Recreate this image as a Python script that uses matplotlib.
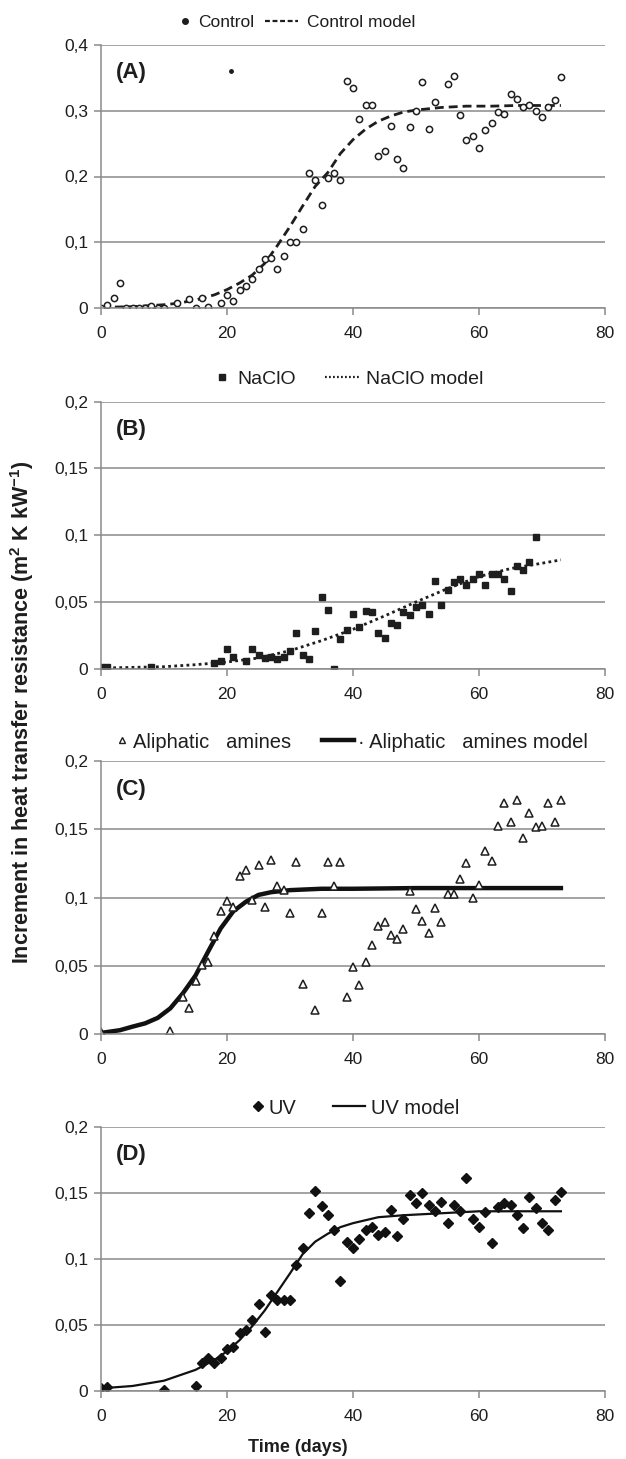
import matplotlib
matplotlib.use('Agg')
import matplotlib.pyplot as plt
from matplotlib.lines import Line2D
from matplotlib.ticker import FuncFormatter

plt.rcParams['font.family'] = ['Liberation Sans', 'DejaVu Sans']
plt.rcParams['mathtext.fontset'] = 'custom'
plt.rcParams['mathtext.rm'] = 'Liberation Sans'
plt.rcParams['mathtext.bf'] = 'Liberation Sans:bold'

# (A) control
ctrl_t = [0, 1, 2, 3, 4, 5, 6, 7, 8, 9, 10, 12, 14, 15, 16, 17, 19,
          20, 21, 22, 23, 24, 25, 26, 27, 28, 29, 30, 31, 32, 33, 34, 35, 36, 37, 38, 39,
          40, 41, 42, 43, 44, 45, 46, 47, 48, 49, 50, 51, 52, 53,
          55, 56, 57, 58, 59, 60, 61, 62, 63, 64, 65, 66, 67, 68, 69, 70, 71, 72, 73]
ctrl_y = [0, 0.004, 0.015, 0.038, 0, 0, 0, 0, 0.003, 0, 0,
          0.007, 0.013, 0, 0.015, 0.002, 0.007,
          0.02, 0.01, 0.027, 0.033, 0.044, 0.06, 0.074, 0.076, 0.06, 0.079, 0.1, 0.1, 0.12, 0.206,
          0.194, 0.156, 0.197, 0.206, 0.194, 0.345, 0.335, 0.288, 0.309, 0.308, 0.231, 0.239,
          0.277, 0.226, 0.213, 0.276, 0.3, 0.343, 0.273, 0.314,
          0.34, 0.353, 0.293, 0.256, 0.261, 0.243, 0.271, 0.281, 0.298, 0.295, 0.326, 0.318,
          0.306, 0.308, 0.3, 0.291, 0.305, 0.316, 0.351]
dot_t = [20.7]
dot_y = [0.36]
ctrl_model_t = [0, 5, 10, 12, 15, 18, 20, 22, 24, 26, 28, 30, 32, 34, 36, 38, 40, 42, 44, 46,
                48, 50, 54, 58, 62, 66, 70, 73]
ctrl_model_y = [0.001, 0.002, 0.005, 0.007, 0.012, 0.02, 0.028, 0.038, 0.05, 0.068, 0.095,
                0.124, 0.155, 0.185, 0.206, 0.235, 0.256, 0.272, 0.284, 0.292, 0.298, 0.301,
                0.305, 0.307, 0.307, 0.308, 0.308, 0.308]

# (B) NaClO
nacl_t = [0, 1, 8, 18, 19, 20, 21, 23, 24, 25, 26, 27, 28, 29, 30, 31, 32, 33, 34, 35, 36,
          37, 38, 39, 40, 41, 42, 43, 44, 45, 46, 47, 48, 49, 50, 51, 52, 53, 54, 55, 56, 57,
          58, 59, 60, 61, 62, 63, 64, 65, 66, 67, 68, 69]
nacl_y = [0.001, 0.0015, 0.001, 0.004, 0.0055, 0.015, 0.009,
          0.006, 0.015, 0.01, 0.008, 0.009, 0.0075, 0.009, 0.013, 0.0265, 0.01,
          0.0075, 0.0285, 0.054, 0.044, 0, 0.022, 0.029, 0.041, 0.031, 0.043,
          0.0425, 0.0265, 0.023, 0.034, 0.033, 0.0425, 0.04, 0.0465, 0.048, 0.041,
          0.066, 0.048, 0.059, 0.065, 0.067, 0.063, 0.0675, 0.071, 0.0625, 0.071,
          0.071, 0.067, 0.058, 0.077, 0.074, 0.08, 0.099]
nacl_model_t = [0, 5, 10, 15, 20, 25, 30, 35, 40, 45, 50, 55, 60, 65, 70, 73]
nacl_model_y = [0.0005, 0.001, 0.0015, 0.003, 0.005, 0.008, 0.0135, 0.021, 0.0295, 0.0395,
                0.05, 0.06, 0.069, 0.075, 0.079, 0.0815]

# (C) aliphatic amines
amin_t = [0, 11, 13, 14, 15, 16, 17, 18, 19, 20, 21, 22, 23, 24, 25, 26, 27, 28, 29, 30, 31,
          32, 34, 35, 36, 37, 38, 39, 40, 41, 42, 43, 44, 45, 46, 47, 48, 49, 50, 51, 52, 53,
          54, 55, 56, 57, 58, 59, 60, 61, 62, 63, 64, 65, 66, 67, 68, 69, 70, 71, 72, 73]
amin_y = [0.002, 0.0025,
          0.0275, 0.019, 0.039, 0.051, 0.053, 0.072, 0.09, 0.0975, 0.093, 0.116,
          0.12, 0.098, 0.124, 0.093, 0.1275, 0.1085, 0.1055, 0.089, 0.126, 0.037,
          0.018, 0.089, 0.126, 0.1085, 0.126, 0.027, 0.049, 0.036, 0.053, 0.065,
          0.079, 0.0825, 0.0725, 0.07, 0.077, 0.105, 0.092, 0.083, 0.074, 0.0925,
          0.082, 0.103, 0.1025, 0.1135, 0.125, 0.1, 0.1095, 0.134, 0.127, 0.1525,
          0.169, 0.155, 0.1715, 0.144, 0.162, 0.152, 0.1525, 0.169, 0.155, 0.1715]
amin_model_t = [0, 3, 5, 7, 9, 11, 13, 15, 17, 19, 21, 23, 25, 27, 30, 35, 40, 50, 60, 73]
amin_model_y = [0.001, 0.003, 0.0056, 0.008, 0.012, 0.019, 0.03, 0.043, 0.0605, 0.0775, 0.09,
                0.097, 0.102, 0.104, 0.1055, 0.1065, 0.1065, 0.107, 0.107, 0.107]

# (D) UV
uv_t = [0, 1, 10, 15, 16, 17, 18, 19, 20, 21, 22, 23, 24, 25, 26, 27, 28, 29, 30, 31, 32, 33,
        34, 35, 36, 37, 38, 39, 40, 41, 42, 43, 44, 45, 46, 47, 48, 49, 50, 51, 52, 53, 54,
        55, 56, 57, 58, 59, 60, 61, 62, 63, 64, 65, 66, 67, 68, 69, 70, 71, 72, 73]
uv_y = [0.002, 0.003, 0.001,
        0.004, 0.0215, 0.025, 0.021, 0.025, 0.032, 0.0335, 0.044, 0.0465, 0.054,
        0.066, 0.045, 0.0725, 0.069, 0.069, 0.069, 0.0955, 0.108, 0.135, 0.1515,
        0.14, 0.133, 0.122, 0.0835, 0.1125, 0.108, 0.115, 0.1215, 0.124, 0.118,
        0.12, 0.137, 0.1175, 0.13, 0.1485, 0.142, 0.1495, 0.1405, 0.136, 0.143,
        0.127, 0.141, 0.136, 0.1615, 0.1305, 0.124, 0.1355, 0.112, 0.139, 0.142,
        0.1405, 0.1335, 0.123, 0.1465, 0.1385, 0.127, 0.122, 0.1445, 0.1505]
uv_model_t = [0, 5, 10, 15, 18, 20, 22, 24, 26, 28, 30, 32, 34, 36, 38, 40, 44, 48, 52, 60, 73]
uv_model_y = [0.002, 0.0038, 0.0078, 0.016, 0.0235, 0.03, 0.0385, 0.049, 0.061, 0.075, 0.089,
              0.1035, 0.113, 0.119, 0.124, 0.127, 0.1315, 0.133, 0.134, 0.136, 0.136]

W, H = 626, 1459
fig = plt.figure(figsize=(W / 100, H / 100), dpi=100)

grey = '#8a8a8a'
ink = '#1e1e1e'
comma = FuncFormatter(lambda v, p: ('%g' % round(v, 3)).replace('.', ','))


def make_axes(top, bottom, ymax, ystep, label):
    ax = fig.add_axes([101 / W, 1 - bottom / H, 504 / W, (bottom - top) / H])
    ax.set_xlim(0, 80)
    ax.set_ylim(0, ymax)
    ax.set_xticks([0, 20, 40, 60, 80])
    n = int(round(ymax / ystep))
    ax.set_yticks([i * ystep for i in range(n + 1)])
    ax.yaxis.set_major_formatter(comma)
    ax.yaxis.grid(True, color=grey, lw=1.1)
    ax.set_axisbelow(True)
    for s in ['top', 'right']:
        ax.spines[s].set_visible(False)
    for s in ['left', 'bottom']:
        ax.spines[s].set_color(grey)
        ax.spines[s].set_linewidth(1.1)
    ax.tick_params(colors=grey, labelcolor=ink, labelsize=12.5, length=5, width=1.1)
    ax.tick_params(axis='x', pad=8)
    ax.tick_params(axis='y', pad=4)
    ax.text(0.03, 0.895, label, transform=ax.transAxes, fontsize=16, fontweight='bold',
            va='center', ha='left', color=ink)
    return ax


def legend_entry(handle, label, x_left, y, fs, hl, tp):
    # one legend item placed by the left edge of its handle (pixels)
    fig.legend([handle], [label], loc='center left', bbox_to_anchor=(x_left / W, 1 - y / H),
               frameon=False, fontsize=fs, handlelength=hl, handletextpad=tp,
               borderpad=0, borderaxespad=0, labelcolor=ink)


# (A)
axA = make_axes(45, 308, 0.4, 0.1, '(A)')
axA.plot(ctrl_model_t, ctrl_model_y, color=ink, lw=2, ls=(0, (3.2, 1.8)))
axA.plot(ctrl_t, ctrl_y, 'o', ms=4.5, mfc='white', mec=ink, mew=1.1)
axA.plot(dot_t, dot_y, 'o', ms=2.5, color=ink)
legend_entry(Line2D([], [], ls='none', marker='o', ms=4, color=ink),
             'Control', 180, 22, 12.5, 0.6, 0.45)
legend_entry(Line2D([], [], color=ink, lw=1.6, ls=(0, (2.2, 1.2))),
             'Control model', 265, 22, 12.5, 1.9, 0.5)

# (B)
axB = make_axes(401.7, 668.7, 0.2, 0.05, '(B)')
axB.plot(nacl_model_t, nacl_model_y, color=ink, lw=2, ls=(0, (1, 1.2)))
axB.plot(nacl_t, nacl_y, 's', ms=5, color=ink)
legend_entry(Line2D([], [], ls='none', marker='s', ms=4.5, color=ink),
             'NaClO', 216, 379, 14, 0.6, 0.5)
legend_entry(Line2D([], [], color=ink, lw=1.6, ls=(0, (0.8, 1))),
             'NaClO model', 325, 379, 14, 1.8, 0.3)

# (C)
axC = make_axes(761, 1034.3, 0.2, 0.05, '(C)')
axC.plot(amin_model_t, amin_model_y, color='#111111', lw=3.2)
axC.plot(amin_t, amin_y, '^', ms=6, mfc='white', mec=ink, mew=1.1)
legend_entry(Line2D([], [], ls='none', marker='^', ms=5, mfc='white', mec=ink, mew=1),
             'Aliphatic   amines', 116, 742, 14.5, 0.6, 0.25)
legend_entry(Line2D([], [], color='#111111', lw=3.2),
             '\u00b7 Aliphatic   amines model', 322, 742, 14.5, 1.6, 0.2)

# (D)
axD = make_axes(1126.7, 1391, 0.2, 0.05, '(D)')
axD.plot(uv_model_t, uv_model_y, color='#111111', lw=1.6)
axD.plot(uv_t, uv_y, 'D', ms=5.5, color='#111111')
legend_entry(Line2D([], [], ls='none', marker='D', ms=5, color='#111111'),
             'UV', 252, 1108, 14.5, 0.6, 0.2)
legend_entry(Line2D([], [], color='#111111', lw=1.6),
             'UV model', 333, 1108, 14.5, 1.6, 0.3)

fig.text(22 / W, 1 - 712 / H,
         r'Increment in heat transfer resistance (m$^{\mathbf{2}}$ K kW$^{\mathbf{-1}}$)',
         rotation=90, fontsize=15.5, fontweight='bold', ha='center', va='center',
         color=ink)
fig.text(298 / W, 1 - 1448 / H, 'Time (days)', fontsize=13, fontweight='bold',
         ha='center', va='center', color=ink)

fig.savefig('out.png', dpi=100)
